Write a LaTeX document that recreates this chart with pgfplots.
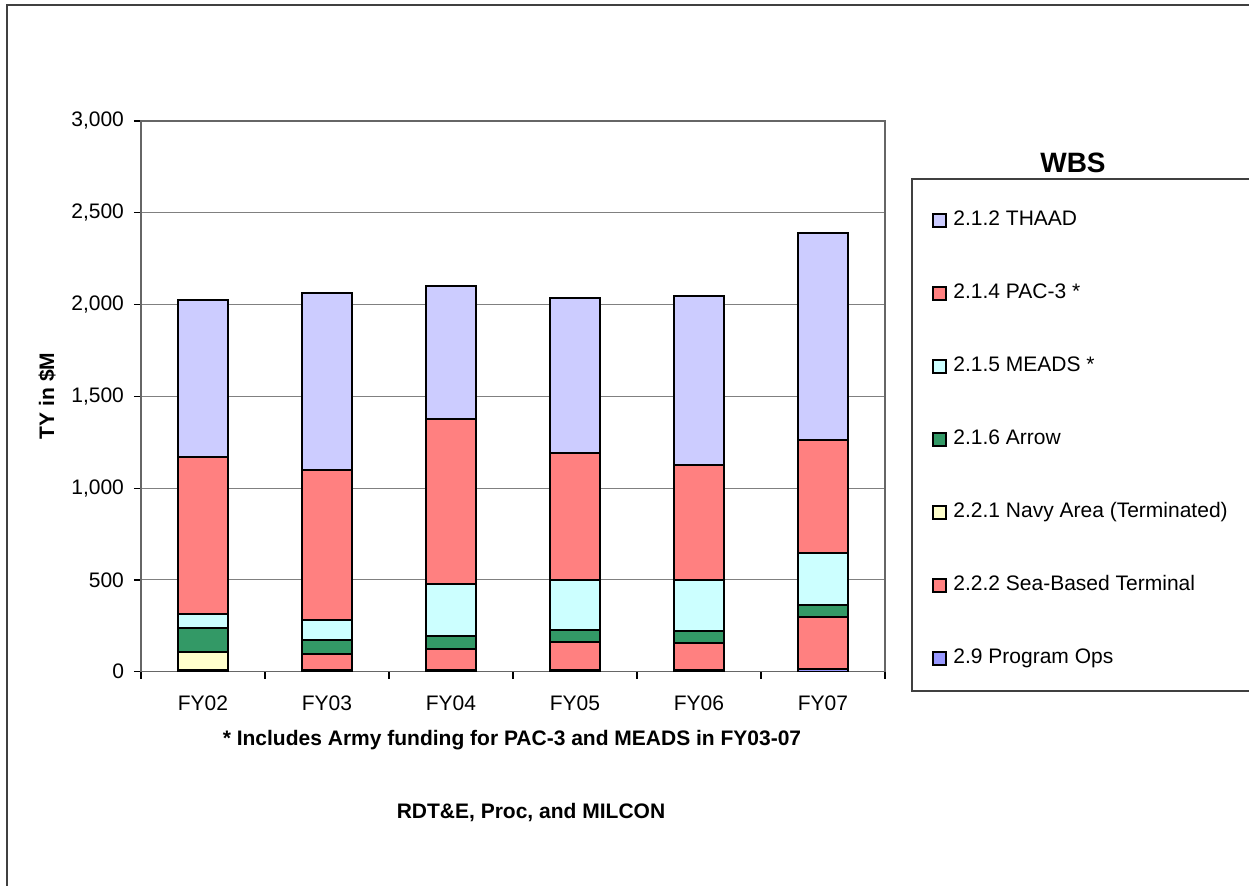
\documentclass[border=0pt]{standalone}
\usepackage{fontspec}
\setmainfont{Liberation Sans}
\usepackage{pgfplots}
\pgfplotsset{compat=1.18}

\definecolor{thaad}{HTML}{CCCCFF}
\definecolor{pacthree}{HTML}{FF8080}
\definecolor{meads}{HTML}{CCFFFF}
\definecolor{arrow}{HTML}{339966}
\definecolor{navy}{HTML}{FFFFCC}
\definecolor{seabased}{HTML}{FF8080}
\definecolor{progops}{HTML}{9999FF}

\pgfplotsset{
  sq/.style={draw=black, line width=0.9pt,
    legend image code/.code={\draw[##1, line width=1pt] (0pt,-3.25pt) rectangle (6.5pt,3.25pt);}},
}

\begin{document}
\begin{tikzpicture}
\useasboundingbox (0pt,0pt) rectangle (624.5pt,443pt);
% outer chart frame (cropped at right and bottom)
\draw[line width=0.8pt, black!75] (3.5pt,-5pt) -- (3.5pt,440.5pt) -- (630pt,440.5pt);
% legend frame
\draw[line width=0.6pt, black!75] (630pt,353.5pt) -- (456pt,353.5pt) -- (456pt,97.5pt) -- (630pt,97.5pt);
\node[font=\fontsize{14}{16}\selectfont\bfseries] at (536.5pt,361.5pt) {WBS};

\begin{axis}[
  at={(70.5pt,107.15pt)}, anchor=south west, scale only axis,
  width=372pt, height=275.35pt,
  ybar stacked, bar width=25pt,
  xmin=-0.5, xmax=5.5, ymin=0, ymax=3000,
  xtick={0,...,5},
  xticklabels={FY02,FY03,FY04,FY05,FY06,FY07},
  major x tick style={draw=none},
  minor xtick={-0.5,0.5,...,5.5},
  minor x tick style={black, line width=0.6pt},
  ytick={0,500,...,3000},
  y tick style={black, line width=0.6pt},
  tick align=outside, major tick length=3.5pt, minor tick length=3.5pt,
  xtick pos=bottom, ytick pos=left,
  scaled y ticks=false,
  /pgf/number format/.cd, 1000 sep={,}, assume math mode=true, /pgfplots/.cd,
  ymajorgrids, grid style={gray, line width=0.5pt},
  axis line style={black!60, line width=0.6pt},
  xticklabel style={font=\fontsize{10.5}{12}\selectfont, yshift=-5pt},
  yticklabel style={font=\fontsize{10.5}{12}\selectfont, xshift=-1.5pt},
  reverse legend,
  legend cell align=left,
  legend style={draw=none, fill=none,
    at={(axis description cs:1.0632,0.8375)}, anchor=north west,
    inner sep=0pt, row sep=26.5pt,
    font=\fontsize{10.5}{12}\selectfont,
    nodes={inner sep=0pt, text height=7.5pt, text depth=2.5pt},
    /tikz/every odd column/.append style={column sep=3pt}},
]
% bottom-up: 2.9, 2.2.2, 2.2.1, 2.1.6, 2.1.5, 2.1.4, 2.1.2
\addplot[fill=progops, sq] coordinates {(0,10) (1,10) (2,10) (3,10) (4,10) (5,15)};
\addplot[fill=seabased, sq] coordinates {(0,0) (1,85) (2,114) (3,152) (4,146) (5,281)};
\addplot[fill=navy, sq] coordinates {(0,96) (1,0) (2,0) (3,0) (4,0) (5,0)};
\addplot[fill=arrow, sq] coordinates {(0,134) (1,76) (2,70) (3,67) (4,67) (5,66)};
\addplot[fill=meads, sq] coordinates {(0,73) (1,111) (2,284) (3,272) (4,278) (5,283)};
\addplot[fill=pacthree, sq] coordinates {(0,855) (1,816) (2,898) (3,690) (4,625) (5,617)};
\addplot[fill=thaad, sq] coordinates {(0,857) (1,964) (2,724) (3,844) (4,920) (5,1127)};
\legend{2.9 Program Ops, 2.2.2 Sea-Based Terminal, 2.2.1 Navy Area (Terminated),
  2.1.6 Arrow, 2.1.5 MEADS *, 2.1.4 PAC-3 *, 2.1.2 THAAD}
\end{axis}

\node[rotate=90, font=\fontsize{10.5}{12}\selectfont\bfseries] at (23.5pt,245pt) {TY in \$M};
\node[font=\fontsize{10.5}{12}\selectfont\bfseries] at (256pt,73pt)
  {* Includes Army funding for PAC-3 and MEADS in FY03-07};
\node[font=\fontsize{10.5}{12}\selectfont\bfseries] at (265.5pt,36.5pt)
  {RDT\&E, Proc, and MILCON};
\end{tikzpicture}
\end{document}
